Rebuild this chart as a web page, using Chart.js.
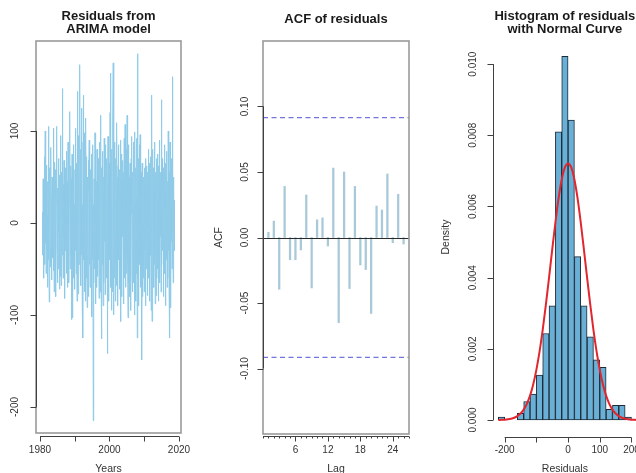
<!DOCTYPE html>
<html>
<head>
<meta charset="utf-8">
<script src="https://cdn.jsdelivr.net/npm/chart.js@4.4.1/dist/chart.umd.min.js"></script>
<style>
  html, body { margin: 0; padding: 0; background: #fff; overflow: hidden; }
  body { width: 636px; height: 473px; position: relative; }
  canvas { position: absolute; top: 0; }
</style>
</head>
<body>
<canvas id="resid" width="212" height="473" style="left:0;width:212px;height:473px"></canvas>
<canvas id="acf" width="212" height="473" style="left:212px;width:212px;height:473px"></canvas>
<canvas id="hist" width="220" height="473" style="left:424px;width:220px;height:473px"></canvas>
<script>
// ARIMA residual diagnostics: series, ACF, histogram
(function () {
  'use strict';

  var FONT = "'Liberation Sans', Arial, Helvetica, sans-serif";
  var INK = '#1a1a1a';
  var LABEL = '#333';
  var AXIS = '#404040';
  var BOX = '#9a9a9a';

  // residuals, monthly, starting Oct 1980
  var RESID_START = 1980.75;
  var RESID_FREQ = 12;
  var RESIDUALS = [
    12, -35, 48, 5, -60, 30, 72, -18, -45, 100, -22, 40,
    -55, 18, 63, -30, 8, -70, 45, 22, 105, -40, -12, -86,
    35, 60, -25, -48, 15, 82, -8, -62, 28, 50, -38, 10,
    -20, 103, -52, 25, -75, 40, 66, -15, -33, 58, -80, 20,
    47, 105, -28, -65, 12, 38, -50, 70, -10, 28, -72, 52,
    -5, -58, 95, 30, -68, -42, 55, -25, 146, -35, 18, -60,
    42, -15, 68, -48, 25, -82, 35, 60, -30, 10, -55, 78,
    -22, 45, -70, 15, 88, -40, 52, -65, 20, 34, 121, -50,
    -18, 62, -35, 48, -105, 30, 75, -28, -103, 55, 12, -60,
    85, -45, 20, -72, 58, 40, -30, 103, -55, 65, -20, -85,
    70, 143, -60, -77, 95, 30, -45, 110, -15, 172, -50, 80,
    -68, 45, 125, -35, 60, -90, 20, -125, 88, 139, -40, 55,
    -75, 30, 98, -20, -85, 114, 40, -60, 72, -30, -92, 50,
    15, -55, 68, -80, 35, 90, -45, 22, -70, 58, -25, 42,
    -60, 75, -102, 30, 55, -40, 85, -215, 20, -65, 48, 10,
    -50, 98, -30, 62, -88, 25, 45, -70, 80, -15, -58, 35,
    70, -40, 18, -82, 52, 88, -25, -75, 40, 117, -60, -126,
    60, 25, -45, 78, -30, -90, 50, 15, -65, 92, -20, 40,
    -78, 55, 85, -35, 20, -60, 70, -15, -142, 45, 94, -50,
    30, -85, 65, 10, -40, 120, 55, 163, -70, 25, -95, 80,
    -30, 60, -75, 110, 174, -100, 45, -20, 88, -60, 35, -85,
    70, -45, 25, -68, 109, 50, -30, 15, -90, 62, 85, -40,
    40, -72, 20, 58, -55, 90, -107, 35, 75, -25, -80, 48,
    -15, 68, 30, -88, 55, -40, 92, -60, 20, 107, -70, 40,
    -35, 80, -55, 25, 117, 60, -45, -103, 85, 15, -65, 50,
    30, -80, 65, -20, 45, -95, 70, 10, 94, -58, 35, -75,
    55, -30, 88, -65, 20, 75, -100, 99, -40, 60, -85, 30,
    45, -55, 92, -125, 184, -60, 25, 70, -90, 40, -20, 85,
    -45, 96, -70, 30, 55, -35, 20, -149, 65, -80, 40, 15,
    -60, 50, 25, -75, 60, -30, 45, -90, 70, 10, -50, 62,
    -25, 40, -79, 55, 15, 80, -60, 30, -40, 65, -85, 20,
    50, -35, 72, -95, 28, 139, -107, 45, -55, 80, -20, 60,
    -70, 35, 88, -45, 20, -88, 55, -30, -79, 70, 40, -60,
    15, 75, -50, 30, -85, 62, 20, -40, 90, -65, 45, -15,
    55, -75, 25, 134, -45, 70, -30, 10, 60, -59, -80, 40,
    -20, 85, -55, 35, 65, -90, 15, 50, -40, 78, -70, 25,
    45, -60, 100, -30, 20, -75, 55, -125, 88, -45, 30, -92,
    60, -20, 70, -50, 159, -40, 35, -65, 50, -10, 25, -30
  ];
  var YEAR_TICKS = [1980, 1990, 2000, 2010, 2020];
  var YEAR_LABELS = ['1980', '', '2000', '', '2020'];
  var RESID_TICKS = [100, 0, -100, -200];

  // autocorrelation of residuals, lags 1..26
  var ACF_LAGS = [1, 2, 3, 4, 5, 6, 7, 8, 9, 10, 11, 12, 13, 14, 15, 16, 17, 18, 19, 20, 21, 22, 23, 24, 25, 26];
  var ACF_VALUES = [0.004, 0.0125, -0.0395, 0.039, -0.017, -0.017, -0.0095, 0.0325, -0.0385, 0.0135, 0.015, -0.0065, 0.053,
    -0.065, 0.050, -0.039, 0.039, -0.021, -0.0245, -0.058, 0.024, 0.021, 0.0485, -0.004, 0.033, -0.005];
  var ACF_BOUND = 0.0915;
  var ACF_TICKS = [0.10, 0.05, 0.00, -0.05, -0.10];
  var ACF_TICK_LABELS = ['0.10', '0.05', '0.00', '-0.05', '-0.10'];
  var LAG_MAJOR = [6, 12, 18, 24];
  var LAG_MINOR = [0, 1, 2, 3, 4, 5, 7, 8, 9, 10, 11, 13, 14, 15, 16, 17, 19, 20, 21, 22, 23, 25, 26, 27];

  // histogram (density scale), breaks of 20
  var HIST_BREAKS = [-220, -200, -180, -160, -140, -120, -100, -80, -60, -40, -20, 0, 20, 40, 60, 80, 100, 120, 140, 160, 180, 200];
  var HIST_DENSITY = [0.000085, 0, 0, 0.00019, 0.00052, 0.00073, 0.00126, 0.00243, 0.00321, 0.0081, 0.01022,
    0.00843, 0.00459, 0.00321, 0.00234, 0.00169, 0.00148, 0.0003, 0.00041, 0.00041, 0.000085];
  var CURVE_X = [-220, -210, -200, -190, -180, -170, -160, -150, -140, -130, -120, -110, -100, -90, -80, -70, -60, -50, -40, -30, -20, -10,
    0, 10, 20, 30, 40, 50, 60, 70, 80, 90, 100, 110, 120, 130, 140, 150, 160, 170, 180, 190, 200, 210, 220];
  var CURVE_Y = [0.0000025, 0.0000052, 0.0000104, 0.0000197, 0.000036, 0.000064, 0.00011, 0.000182, 0.000293, 0.000455, 0.000685,
    0.0010, 0.00141, 0.00192, 0.00253, 0.00324, 0.0040, 0.00479, 0.00555, 0.00623, 0.00676, 0.0071,
    0.00721, 0.0071, 0.00676, 0.00623, 0.00555, 0.00479, 0.0040, 0.00324, 0.00253, 0.00192, 0.00141, 0.0010,
    0.000685, 0.000455, 0.000293, 0.000182, 0.00011, 0.000064, 0.000036, 0.0000197, 0.0000104, 0.0000052, 0.0000025];
  var DENS_TICKS = [0, 0.002, 0.004, 0.006, 0.008, 0.010];
  var DENS_LABELS = ['0.000', '0.002', '0.004', '0.006', '0.008', '0.010'];
  var RES_TICKS = [-200, -100, 0, 100, 200];
  var RES_LABELS = ['-200', '', '0', '100', '200'];

  function crisp(v) { return Math.round(v) + 0.5; }

  function vText(ctx, text, x, y) {
    ctx.save();
    ctx.translate(x, y);
    ctx.rotate(-Math.PI / 2);
    ctx.fillText(text, 0, 0);
    ctx.restore();
  }

  // draws R-style frame: box, axes with outward ticks, rotated y labels, titles
  function rFrame(cfg) {
    return {
      id: 'rFrame',
      afterDatasetsDraw: function (chart) {
        if (!cfg.zeroLine) return;
        var ctx = chart.ctx, a = chart.chartArea;
        var y0 = crisp(chart.scales.y.getPixelForValue(0));
        ctx.save();
        ctx.strokeStyle = '#2a2a2a';
        ctx.lineWidth = 1;
        ctx.beginPath();
        ctx.moveTo(a.left, y0);
        ctx.lineTo(a.right, y0);
        ctx.stroke();
        ctx.restore();
      },
      afterDraw: function (chart) {
        var ctx = chart.ctx, a = chart.chartArea;
        var xs = chart.scales.x, ys = chart.scales.y;
        ctx.save();

        if (cfg.box) {
          ctx.strokeStyle = BOX;
          ctx.lineWidth = 1.6;
          ctx.strokeRect(a.left, a.top, a.right - a.left, a.bottom - a.top);
        }

        ctx.strokeStyle = AXIS;
        ctx.lineWidth = 1;

        // x axis
        var xa = crisp(a.bottom + cfg.xGap);
        var xFirst = xs.getPixelForValue(cfg.xLine[0]);
        var xLast = xs.getPixelForValue(cfg.xLine[1]);
        ctx.beginPath();
        ctx.moveTo(xFirst, xa);
        ctx.lineTo(xLast, xa);
        cfg.xTicks.forEach(function (v) {
          var px = crisp(xs.getPixelForValue(v));
          ctx.moveTo(px, xa);
          ctx.lineTo(px, xa + 5);
        });
        (cfg.xMinor || []).forEach(function (v) {
          var px = crisp(xs.getPixelForValue(v));
          ctx.moveTo(px, xa);
          ctx.lineTo(px, xa + 2);
        });
        ctx.stroke();

        // y axis
        var yl = crisp(a.left - 0.5);
        var yFirst = ys.getPixelForValue(cfg.yTicks[0]);
        var yLast = ys.getPixelForValue(cfg.yTicks[cfg.yTicks.length - 1]);
        ctx.beginPath();
        ctx.moveTo(yl, yFirst);
        ctx.lineTo(yl, yLast);
        cfg.yTicks.forEach(function (v) {
          var py = crisp(ys.getPixelForValue(v));
          ctx.moveTo(yl, py);
          ctx.lineTo(yl - 6, py);
        });
        ctx.stroke();

        // tick labels
        ctx.fillStyle = LABEL;
        ctx.font = '10px ' + FONT;
        ctx.textAlign = 'center';
        ctx.textBaseline = 'middle';
        cfg.xTicks.forEach(function (v, i) {
          if (cfg.xLabels[i]) ctx.fillText(cfg.xLabels[i], xs.getPixelForValue(v), 450);
        });
        cfg.yTicks.forEach(function (v, i) {
          vText(ctx, cfg.yLabels[i], cfg.yLabelX, ys.getPixelForValue(v));
        });

        // axis titles
        var cx = (a.left + a.right) / 2;
        ctx.font = '10.5px ' + FONT;
        ctx.fillText(cfg.xTitle, cx, 469);
        if (cfg.yTitle) vText(ctx, cfg.yTitle, cfg.yTitleX, (a.top + a.bottom) / 2);

        // main title
        ctx.fillStyle = INK;
        ctx.font = 'bold 13px ' + FONT;
        cfg.title.forEach(function (line, i) {
          ctx.fillText(line, cx, cfg.titleY[i]);
        });
        ctx.restore();
      }
    };
  }

  var base = {
    responsive: false,
    animation: false,
    devicePixelRatio: 1,
    events: [],
    plugins: { legend: { display: false }, tooltip: { enabled: false }, title: { display: false } }
  };

  function opts(padding, x, y) {
    return Object.assign({}, base, { layout: { padding: padding }, scales: { x: x, y: y } });
  }

  // panel 1: residual series
  var residPoints = RESIDUALS.map(function (v, i) { return { x: RESID_START + i / RESID_FREQ, y: v }; });
  new Chart(document.getElementById('resid'), {
    type: 'line',
    data: {
      datasets: [{
        data: residPoints,
        borderColor: '#8fcbe8',
        borderWidth: 1,
        pointRadius: 0,
        tension: 0
      }]
    },
    options: opts({ left: 36, right: 31, top: 41, bottom: 40 },
      { type: 'linear', display: false, min: 1978.85, max: 2020.58 },
      { type: 'linear', display: false, min: -228.3, max: 197.8 }),
    plugins: [rFrame({
      box: true, xGap: 3, xLine: [1980, 2020],
      xTicks: YEAR_TICKS, xLabels: YEAR_LABELS,
      yTicks: RESID_TICKS, yLabels: RESID_TICKS.map(String), yLabelX: 15,
      xTitle: 'Years', title: ['Residuals from', 'ARIMA model'], titleY: [16, 29]
    })]
  });

  // panel 2: ACF
  new Chart(document.getElementById('acf'), {
    type: 'bar',
    data: {
      datasets: [
        {
          type: 'line',
          data: [{ x: 0, y: ACF_BOUND }, { x: 27, y: ACF_BOUND }],
          borderColor: '#7474de', borderWidth: 1.4, borderDash: [5, 3.5], pointRadius: 0, order: 0
        },
        {
          type: 'line',
          data: [{ x: 0, y: -ACF_BOUND }, { x: 27, y: -ACF_BOUND }],
          borderColor: '#7474de', borderWidth: 1.4, borderDash: [5, 3.5], pointRadius: 0, order: 0
        },
        {
          data: ACF_LAGS.map(function (l, i) { return { x: l, y: ACF_VALUES[i] }; }),
          backgroundColor: '#a9c9d8',
          barThickness: 1.6,
          order: 1
        }
      ]
    },
    options: opts({ left: 51, right: 15, top: 41, bottom: 39 },
      { type: 'linear', display: false, min: 0, max: 27, offset: false },
      { type: 'linear', display: false, min: -0.15, max: 0.15 }),
    plugins: [rFrame({
      box: true, zeroLine: true, xGap: 2, xLine: [0, 27],
      xTicks: LAG_MAJOR, xLabels: LAG_MAJOR.map(String), xMinor: LAG_MINOR,
      yTicks: ACF_TICKS, yLabels: ACF_TICK_LABELS, yLabelX: 33,
      yTitle: 'ACF', yTitleX: 7,
      xTitle: 'Lag', title: ['ACF of residuals'], titleY: [19.5]
    })]
  });

  // panel 3: histogram with normal curve
  var histBars = HIST_DENSITY.map(function (d, i) {
    return { x: (HIST_BREAKS[i] + HIST_BREAKS[i + 1]) / 2, y: d };
  });
  new Chart(document.getElementById('hist'), {
    type: 'bar',
    data: {
      datasets: [
        {
          type: 'line',
          data: CURVE_X.map(function (x, i) { return { x: x, y: CURVE_Y[i] }; }),
          borderColor: '#e0262e', borderWidth: 2, pointRadius: 0,
          cubicInterpolationMode: 'monotone', order: 0
        },
        {
          data: histBars,
          backgroundColor: '#6aafd6',
          borderColor: '#1d2a36',
          borderWidth: 1,
          borderSkipped: false,
          barPercentage: 1,
          categoryPercentage: 1,
          order: 1
        }
      ]
    },
    options: opts({ left: 69, right: 7.2, top: 41, bottom: 40 },
      { type: 'linear', display: false, min: -236.8, max: 216.8, offset: false },
      { type: 'linear', display: false, min: -0.000365, max: 0.01065 }),
    plugins: [rFrame({
      box: false, xGap: 4, xLine: [-200, 200],
      xTicks: RES_TICKS, xLabels: RES_LABELS,
      yTicks: DENS_TICKS, yLabels: DENS_LABELS, yLabelX: 49,
      yTitle: 'Density', yTitleX: 22,
      xTitle: 'Residuals', title: ['Histogram of residuals', 'with Normal Curve'], titleY: [16, 29]
    })]
  });
})();
</script>
</body>
</html>
